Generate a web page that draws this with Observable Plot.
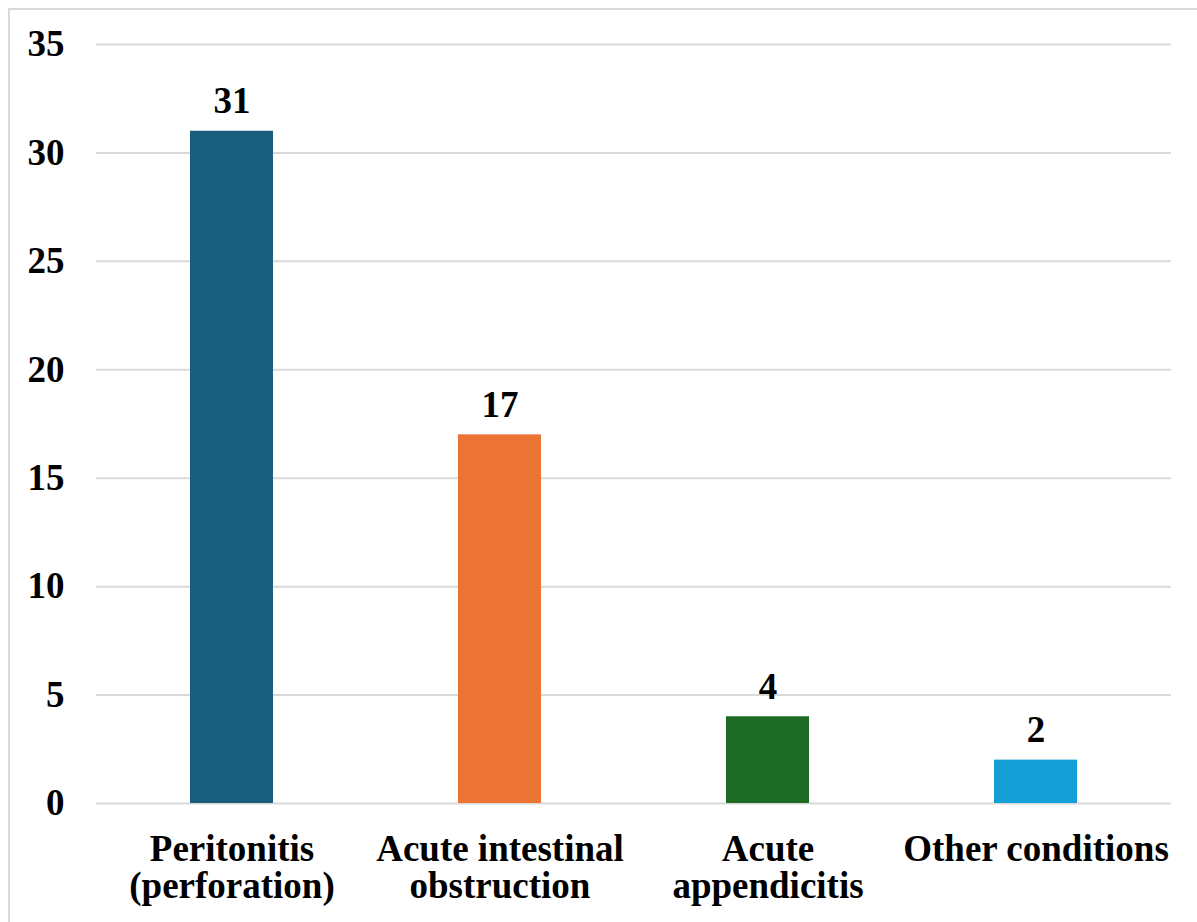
<!DOCTYPE html>
<html>
<head>
<meta charset="utf-8">
<script src="https://cdn.jsdelivr.net/npm/d3@7"></script>
<script src="https://cdn.jsdelivr.net/npm/@observablehq/plot@0.6"></script>
<style>
  html, body { margin: 0; padding: 0; background: #fff; font-family: Liberation Serif, serif; }
  #wrap { position: relative; width: 1197px; height: 922px; overflow: hidden; }
  #border { position: absolute; left: 8px; top: 8px; right: -10px; bottom: -10px;
            border-top: 2px solid #d9d9d9; border-left: 2px solid #d9d9d9; pointer-events: none; }
</style>
</head>
<body>
<div id="wrap"><div id="border"></div></div>
<script>
const categories = ["Peritonitis\n(perforation)", "Acute intestinal\nobstruction", "Acute\nappendicitis", "Other conditions"];
const values = [31, 17, 4, 2];
const colors = ["#1A5E7E", "#EB7434", "#1D6A24", "#149FD7"];
const yTicks = [0, 5, 10, 15, 20, 25, 30, 35];

const data = categories.map((c, i) => ({category: c, value: values[i], color: colors[i]}));
const serif = "Liberation Serif";

const chart = Plot.plot({
  width: 1197,
  height: 922,
  marginLeft: 96,
  marginRight: 26,
  marginTop: 44,
  marginBottom: 119,
  style: {fontFamily: serif, background: "transparent"},
  x: {domain: categories, paddingInner: 0.69, paddingOuter: 0.345, label: null},
  y: {domain: [0, 35], label: null},
  marks: [
    Plot.gridY(yTicks, {stroke: "#d9d9d9", strokeOpacity: 1, strokeWidth: 2}),
    Plot.barY(data, {x: "category", y: "value", fill: "color"}),
    Plot.text(data, {x: "category", y: "value", text: d => String(d.value), dy: -30,
      fontSize: 37, fontWeight: "bold", fill: "#000", fontFamily: serif}),
    Plot.axisY({ticks: yTicks, tickSize: 0, tickPadding: 32, fontSize: 37, fontWeight: "bold",
      color: "#000", label: null, fontFamily: serif}),
    Plot.axisX({tickSize: 0, tickPadding: 31, fontSize: 37, fontWeight: "bold", color: "#000",
      lineHeight: 1.0, label: null, fontFamily: serif})
  ]
});
document.getElementById("wrap").insertBefore(chart, document.getElementById("border"));
</script>
</body>
</html>
